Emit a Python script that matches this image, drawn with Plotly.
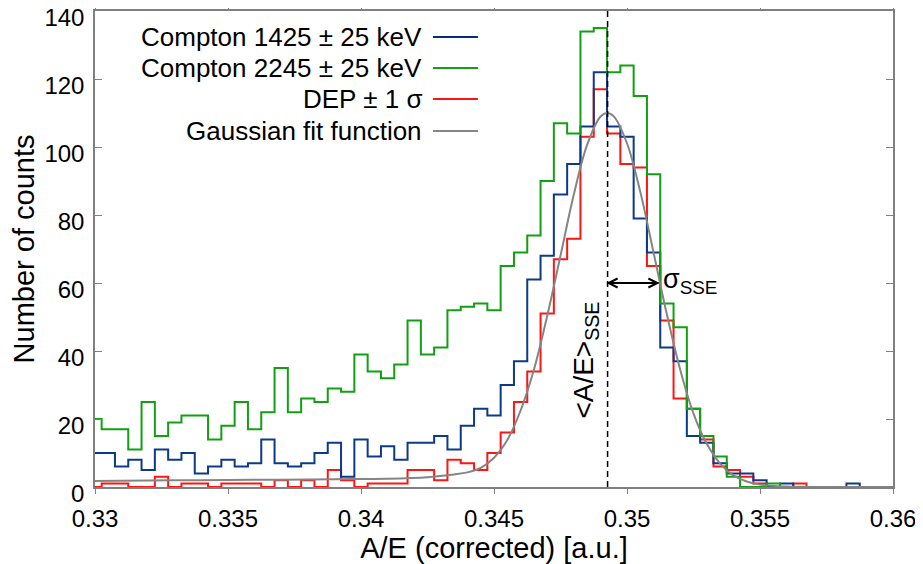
import plotly.graph_objects as go

# ---------------- data ----------------
bin_width = 0.0005
bin_centers = [round(0.330 + bin_width * k, 5) for k in range(60)]

compton_1425 = [10, 10, 6, 8, 5, 11, 8, 10, 4, 6,
                8, 6, 7, 14, 7, 6, 7, 10, 13, 3,
                14, 9, 12, 8, 13, 13, 15, 11, 18, 23,
                21, 30, 37, 61, 68, 86, 95, 106, 122, 106,
                103, 79, 69, 41, 37, 15, 13, 7, 4, 4,
                2, 0, 1, 0, 0, 0, 0, 1, 0, 0]

compton_2245 = [20, 17, 17, 11, 25, 15, 19, 21, 21, 14,
                18, 25, 17, 22, 35, 22, 26, 25, 29, 28,
                39, 34, 32, 36, 49, 39, 41, 52, 53, 54,
                52, 65, 69, 74, 90, 107, 104, 134, 135, 122,
                124, 115, 92, 54, 47, 23, 15, 9, 3, 0,
                0, 1, 0]

dep = [0, 1, 1, 0, 0, 3, 0, 1, 1, 0,
       1, 1, 1, 0, 2, 0, 2, 0, 5, 2,
       0, 1, 1, 1, 5, 5, 2, 8, 7, 5,
       10, 16, 25, 34, 51, 67, 73, 103, 117, 104,
       95, 94, 65, 49, 26, 23, 14, 6, 5, 3,
       1, 0, 0, 1, 0]

# Gaussian fit function
gauss_x = [0.330, 0.333, 0.336, 0.339, 0.341, 0.3425, 0.3435, 0.3440, 0.3445,
           0.3450, 0.3455, 0.3460, 0.3465, 0.3470, 0.3475, 0.3480, 0.3485,
           0.3490, 0.34926, 0.3495, 0.3500, 0.3505, 0.3510, 0.3515, 0.3520,
           0.3525, 0.3530, 0.3535, 0.3540, 0.3545, 0.3550, 0.3560, 0.3570, 0.3600]
gauss_y = [1.8, 1.95, 2.1, 2.3, 2.45, 2.9, 3.7, 4.3, 5.6,
           8.6, 13.8, 22.5, 34.5, 50.3, 68.0, 86.0, 100.6,
           108.9, 110.0, 109.0, 101.1, 86.8, 68.9, 50.7, 34.5,
           21.6, 12.7, 6.9, 3.4, 1.6, 0.7, 0.15, 0.0, 0.0]

mean_sse = 0.34927
sigma_end = 0.35118
arrow_level = 60

x_ticks = [0.33, 0.335, 0.34, 0.345, 0.35, 0.355, 0.36]
x_ticktext = ["0.33", "0.335", "0.34", "0.345", "0.35", "0.355", "0.36"]
y_ticks = [0, 20, 40, 60, 80, 100, 120, 140]

legend_labels = ["Compton 1425 \u00b1 25 keV", "Compton 2245 \u00b1 25 keV",
                 "DEP \u00b1 1 \u03c3", "Gaussian fit function"]

# ---------------- styling ----------------
BLUE = "#0c3a88"
GREEN = "#12a012"
RED = "#ff1414"
GRAY = "#858585"
FONT = "Liberation Sans, Arial, sans-serif"
legend_colors = ["#0a2a7a", GREEN, RED, GRAY]

fig = go.Figure()

fig.add_trace(go.Scatter(x=bin_centers[:len(dep)], y=dep, mode="lines",
                         line=dict(color=RED, width=2, shape="hvh"),
                         name=legend_labels[2], showlegend=False))
fig.add_trace(go.Scatter(x=bin_centers[:len(compton_1425)], y=compton_1425, mode="lines",
                         line=dict(color=BLUE, width=2, shape="hvh"),
                         name=legend_labels[0], showlegend=False))
fig.add_trace(go.Scatter(x=bin_centers[:len(compton_2245)], y=compton_2245, mode="lines",
                         line=dict(color=GREEN, width=2, shape="hvh"),
                         name=legend_labels[1], showlegend=False))
fig.add_trace(go.Scatter(x=gauss_x, y=gauss_y, mode="lines",
                         line=dict(color=GRAY, width=2, shape="spline", smoothing=1.0),
                         name=legend_labels[3], showlegend=False))
fig.add_trace(go.Scatter(x=[mean_sse, mean_sse], y=[0, 140], mode="lines",
                         line=dict(color="black", width=1.5, dash="6px,4px"),
                         showlegend=False, hoverinfo="skip"))

shapes = []
# sigma arrow
shapes.append(dict(type="line", xref="x", yref="y", x0=mean_sse, x1=sigma_end,
                   y0=arrow_level, y1=arrow_level, line=dict(color="black", width=2)))
shapes.append(dict(type="path", xref="x", yref="y", xsizemode="pixel", ysizemode="pixel",
                   xanchor=mean_sse, yanchor=arrow_level,
                   path="M 10,4.5 L 1,0 L 10,-4.5", line=dict(color="black", width=2)))
shapes.append(dict(type="path", xref="x", yref="y", xsizemode="pixel", ysizemode="pixel",
                   xanchor=sigma_end, yanchor=arrow_level,
                   path="M -10,4.5 L -1,0 L -10,-4.5", line=dict(color="black", width=2)))

annotations = []
# custom legend (text right-aligned, line sample on the right)
legend_rows_y = [0.9454, 0.8803, 0.8151, 0.7479]
for lab, col, yy in zip(legend_labels, legend_colors, legend_rows_y):
    annotations.append(dict(xref="paper", yref="paper", x=0.4123, y=yy, text=lab,
                            showarrow=False, xanchor="right", yanchor="middle",
                            font=dict(family=FONT, size=26, color="black")))
    shapes.append(dict(type="line", xref="paper", yref="paper", x0=0.4236, x1=0.4799,
                       y0=yy, y1=yy, line=dict(color=col, width=2)))

annotations.append(dict(xref="x", yref="y", x=sigma_end, y=arrow_level,
                        text="\u03c3<sub>SSE</sub>", showarrow=False,
                        xanchor="left", yanchor="middle", xshift=3, yshift=2,
                        font=dict(family=FONT, size=27, color="black")))
annotations.append(dict(xref="x", yref="y", x=0.34845, y=37.4,
                        text="&lt;A/E&gt;<sub>SSE</sub>", showarrow=False,
                        textangle=-90, xanchor="center", yanchor="middle",
                        font=dict(family=FONT, size=28, color="black")))

# the page body adds an 8 px offset; the figure is sized so that the plot
# area lands on the reference's pixel box
fig.update_layout(
    width=915, height=556,
    margin=dict(l=87, r=30, t=3, b=77),
    paper_bgcolor="white", plot_bgcolor="white",
    font=dict(family=FONT, color="black"),
    shapes=shapes, annotations=annotations,
    showlegend=False,
)
fig.update_xaxes(range=[0.33, 0.36], tickvals=x_ticks, ticktext=x_ticktext,
                 automargin=False, ticklabeloverflow="allow",
                 ticks="outside", ticklen=5, tickwidth=1, tickcolor="#808080",
                 showline=True, linecolor="#808080", linewidth=1.5, mirror="ticks",
                 showgrid=False, zeroline=False,
                 tickfont=dict(family=FONT, size=24, color="black"),
                 ticklabelstandoff=4,
                 title=dict(text="A/E (corrected) [a.u.]", standoff=4,
                            font=dict(family=FONT, size=29, color="black")))
fig.update_yaxes(range=[0, 140], tickvals=y_ticks,
                 automargin=False, ticklabeloverflow="allow",
                 ticklabelshift=7,
                 ticks="inside", ticklen=7, tickwidth=1, tickcolor="#808080",
                 showline=True, linecolor="#808080", linewidth=1.5, mirror="ticks",
                 showgrid=False, zeroline=False,
                 tickfont=dict(family=FONT, size=24, color="black"),
                 ticklabelstandoff=4,
                 title=dict(text="Number of counts", standoff=2,
                            font=dict(family=FONT, size=29, color="black")))

fig.write_html("out.html")
